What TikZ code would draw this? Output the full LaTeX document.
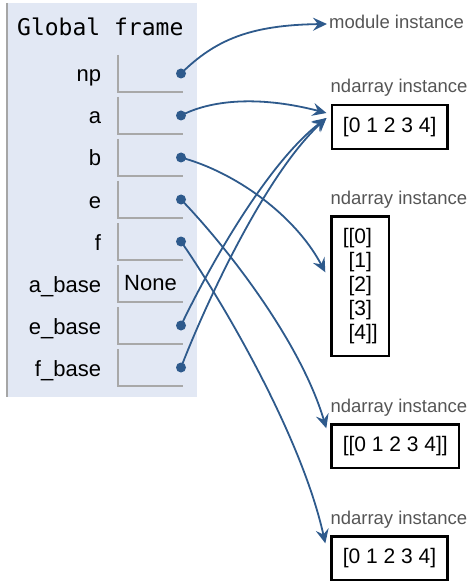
\documentclass[tikz,border=0pt]{standalone}
\usepackage{fontspec}
\setmainfont{Liberation Sans}
\newfontfamily\framefont{DejaVu Sans Mono}
\usepackage{tikz}
\usetikzlibrary{arrows.meta,positioning}
\definecolor{FrameBg}{HTML}{E2E8F4}
\definecolor{FrameEdge}{HTML}{A6A6A6}
\definecolor{SlotGrey}{HTML}{A8A8A8}
\definecolor{TypeGrey}{HTML}{555555}
\definecolor{PtrBlue}{HTML}{2E5A8C}
\begin{document}
\begin{tikzpicture}[x=1pt,y=-1pt,>={Stealth[length=14pt,width=13pt,inset=5pt]}]
\tikzstyle{slot}=[minimum width=65pt,minimum height=37pt,inner sep=0pt,outer sep=0pt,text height=18pt,text depth=4pt,font=\fontsize{22}{26}\selectfont]
\tikzstyle{slotline}=[draw=SlotGrey,line width=2pt]
\tikzstyle{varname}=[inner sep=0pt,outer sep=0pt,text height=20pt,text depth=3pt,font=\fontsize{22}{26}\selectfont]
\tikzstyle{ptrdot}=[circle,fill=PtrBlue,inner sep=0pt,minimum size=10pt]
\tikzstyle{ptr}=[->,color=PtrBlue,line width=1.8pt]
\tikzstyle{typelbl}=[inner sep=0pt,text height=14pt,text depth=4pt,text=TypeGrey,font=\fontsize{18.5}{22}\selectfont]
\tikzstyle{arr}=[draw,line width=2.5pt,inner xsep=11.2pt,inner ysep=12pt,minimum height=43.5pt,align=left,font=\fontsize{21}{24}\selectfont]
\useasboundingbox (0,0) rectangle (473,585);
% global frame
\fill[FrameBg] (6,3) rectangle (197,397);
\draw[FrameEdge,line width=2.5pt] (7,3) -- (7,397);
\node[anchor=base west,inner sep=0pt,font=\framefont\fontsize{23}{27}\selectfont] (gframe) at (17,36) {Global frame};
\node[slot] (vnp) at (150.5,73.5) {};
\node[slot,below=5pt of vnp] (va) {};
\node[slot,below=5pt of va] (vb) {};
\node[slot,below=5pt of vb] (ve) {};
\node[slot,below=5pt of ve] (vf) {};
\node[slot,below=5pt of vf] (vabase) {None};
\node[slot,below=5pt of vabase] (vebase) {};
\node[slot,below=5pt of vebase] (vfbase) {};
\node[varname,left=17pt of vnp] (lnp) {np};
\node[varname,left=17pt of va] (la) {a};
\node[varname,left=17pt of vb] (lb) {b};
\node[varname,left=17pt of ve] (le) {e};
\node[varname,left=17pt of vf] (lf) {f};
\node[varname,left=17pt of vabase] (labase) {a\_base};
\node[varname,left=17pt of vebase] (lebase) {e\_base};
\node[varname,left=17pt of vfbase] (lfbase) {f\_base};
\draw[slotline] (vnp.north west) |- (vnp.south east);
\draw[slotline] (va.north west) |- (va.south east);
\draw[slotline] (vb.north west) |- (vb.south east);
\draw[slotline] (ve.north west) |- (ve.south east);
\draw[slotline] (vf.north west) |- (vf.south east);
\draw[slotline] (vabase.north west) |- (vabase.south east);
\draw[slotline] (vebase.north west) |- (vebase.south east);
\draw[slotline] (vfbase.north west) |- (vfbase.south east);
\node[ptrdot] (dnp) at ([xshift=-2pt]vnp.east) {};
\node[ptrdot] (da) at ([xshift=-2pt]va.east) {};
\node[ptrdot] (db) at ([xshift=-2pt]vb.east) {};
\node[ptrdot] (de) at ([xshift=-2pt]ve.east) {};
\node[ptrdot] (df) at ([xshift=-2pt]vf.east) {};
\node[ptrdot] (debase) at ([xshift=-2pt]vebase.east) {};
\node[ptrdot] (dfbase) at ([xshift=-2pt]vfbase.east) {};
% heap objects
\node[typelbl,anchor=west,inner xsep=2pt] (modlbl) at (327,24) {module instance};
\node[arr,anchor=north west] (arr1) at (330.5,104) {[0 1 2 3 4]};
\node[arr,anchor=north west,minimum height=0pt] (arr2) at (330.3,215.3) {[[0]\\\phantom{[}[1]\\\phantom{[}[2]\\\phantom{[}[3]\\\phantom{[}[4]]};
\node[arr,anchor=north west] (arr3) at (330.3,423.3) {[[0 1 2 3 4]]};
\node[arr,anchor=north west] (arr4) at (330.3,535.3) {[0 1 2 3 4]};
\node[typelbl,above=7pt of arr1.north west,anchor=south west] (tl1) {ndarray instance};
\node[typelbl,above=7pt of arr2.north west,anchor=south west] (tl2) {ndarray instance};
\node[typelbl,above=7pt of arr3.north west,anchor=south west] (tl3) {ndarray instance};
\node[typelbl,above=7pt of arr4.north west,anchor=south west] (tl4) {ndarray instance};
\coordinate (ta) at ([xshift=-4pt,yshift=-9pt]arr1.north west);
\coordinate (tbase) at ([xshift=-4pt,yshift=-14pt]arr1.north west);
\coordinate (tb) at ([xshift=-5pt,yshift=-57pt]arr2.north west);
\coordinate (te) at ([xshift=-4pt,yshift=-5pt]arr3.north west);
\coordinate (tf) at ([xshift=-5pt,yshift=-8pt]arr4.north west);
% pointers
\draw[ptr] (dnp.center) .. controls (215,40) and (250,25) .. (modlbl.west);
\draw[ptr] (da.center) .. controls (215,98) and (265,97) .. (ta);
\draw[ptr] (db.center) .. controls (235,172) and (295,215) .. (tb);
\draw[ptr] (de.center) .. controls (225,245) and (300,340) .. (te);
\draw[ptr] (df.center) .. controls (215,290) and (300,430) .. (tf);
\draw[ptr] (debase.center) .. controls (205,275) and (265,165) .. (tbase);
\draw[ptr] (dfbase.center) .. controls (205,305) and (265,175) .. (tbase);
\end{tikzpicture}
\end{document}
